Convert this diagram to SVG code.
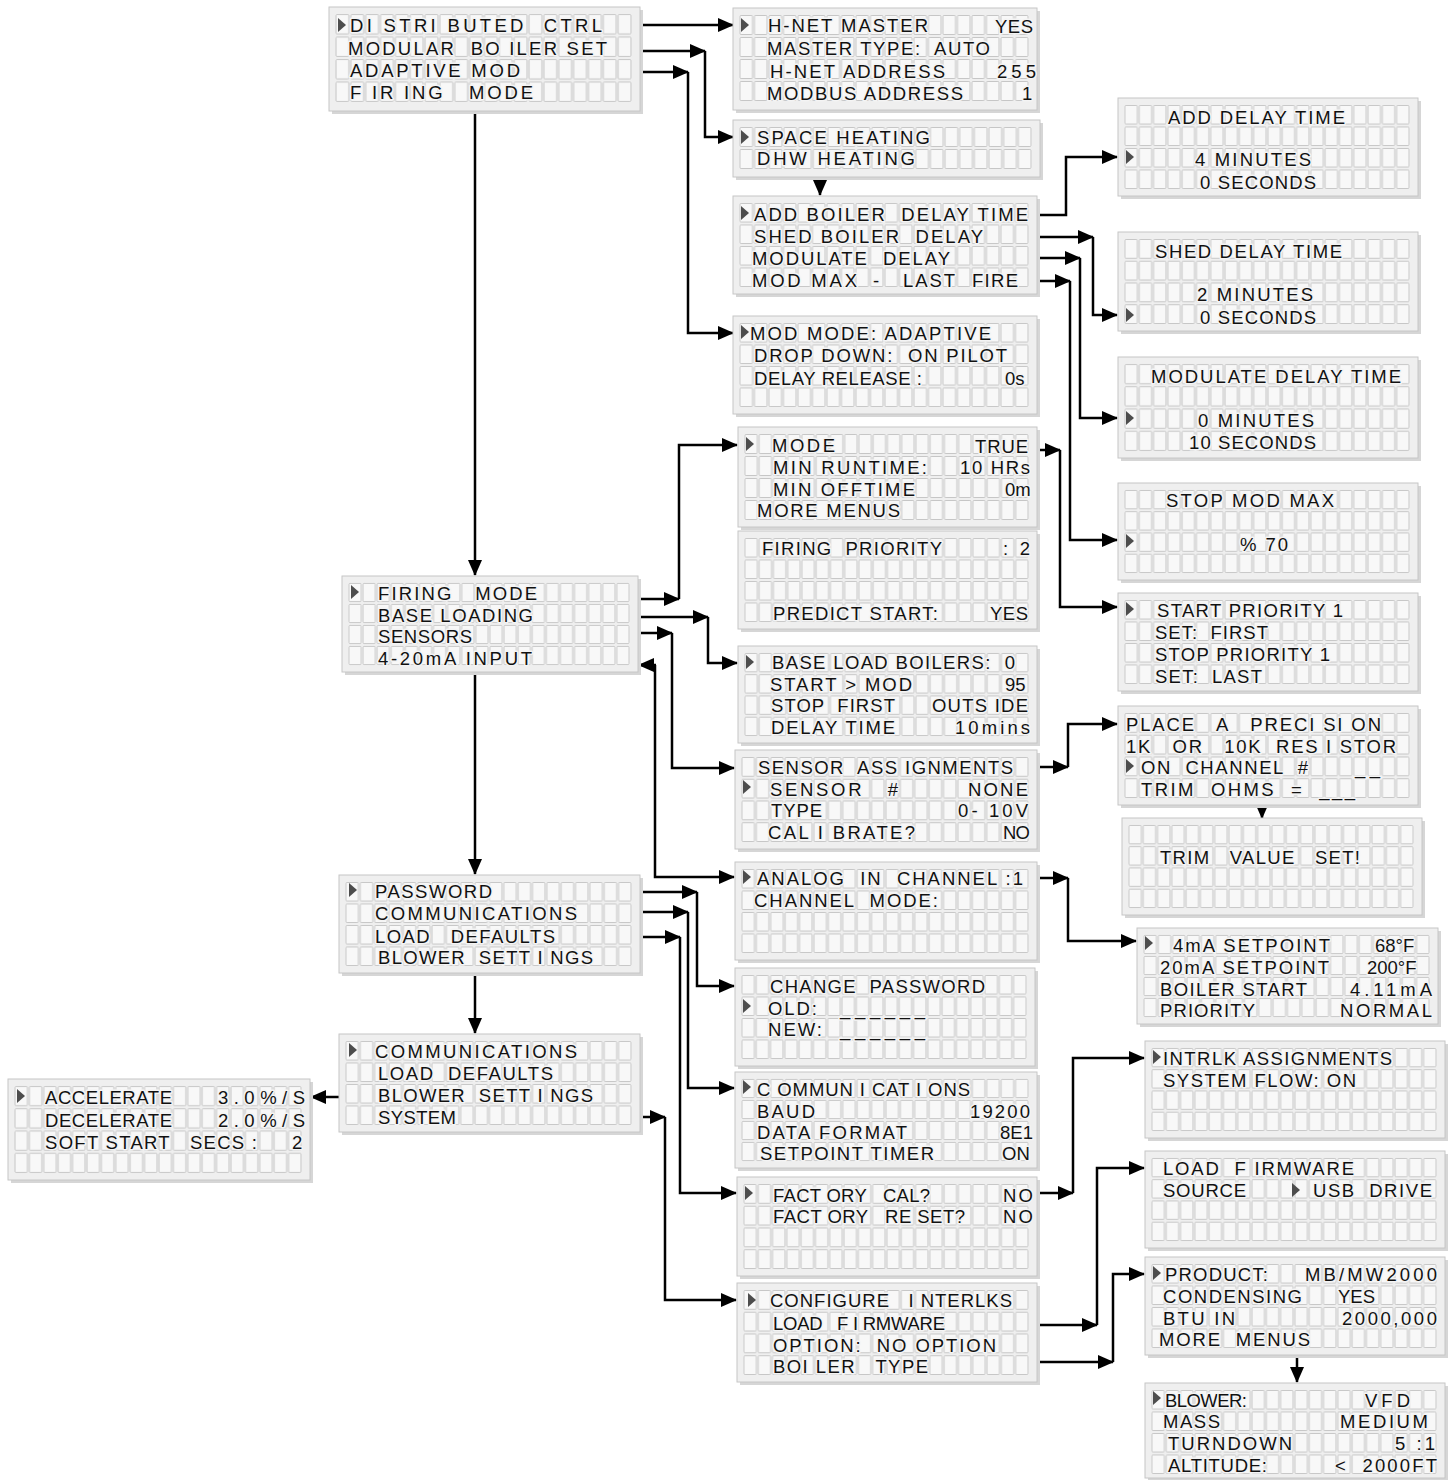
<svg xmlns="http://www.w3.org/2000/svg" xmlns:xlink="http://www.w3.org/1999/xlink" width="1452" height="1480" viewBox="0 0 1452 1480" xml:space="preserve">
<style>
.bg{fill:#ffffff}
.sh{fill:#d6d6d6}
.pn{fill:#efefef;stroke:#c6c6c6;stroke-width:1}
.sel{fill:#4d4d4d}
text{font-family:"Liberation Sans",Arial,sans-serif;font-size:18.5px;fill:#111111;stroke:#f4f4f4;stroke-width:3px;stroke-linejoin:round;paint-order:stroke;white-space:pre}
.ca{fill:none;stroke:#000;stroke-width:2.5;marker-end:url(#ah)}
</style>
<defs>
<marker id="ah" markerWidth="16" markerHeight="14" refX="15" refY="7" orient="auto" markerUnits="userSpaceOnUse"><path d="M0,0 L16,7 L0,14 z" fill="#000"/></marker>
<pattern id="cellpat" width="14.5" height="22" patternUnits="userSpaceOnUse"><rect x="1" y="1.5" width="12.5" height="19" rx="1" fill="#f8f8f8" stroke="#bdbdbd" stroke-width="0.8"/></pattern>
<symbol id="g4" viewBox="0 0 290 88" preserveAspectRatio="none"><rect width="290" height="88" fill="url(#cellpat)"/></symbol>
<symbol id="g2" viewBox="0 0 290 44" preserveAspectRatio="none"><rect width="290" height="44" fill="url(#cellpat)"/></symbol>
</defs>
<rect class="bg" width="1452" height="1480"/>

<g id="connectors">
<path class="ca" d="M640,25 H733"/>
<path class="ca" d="M640,51 H705"/><path class="ca" d="M705,51 V137 H733"/>
<path class="ca" d="M640,72 H688"/><path class="ca" d="M688,72 V333 H733"/>
<path class="ca" d="M475,111 V575"/>
<path class="ca" d="M820,178 V195"/>
<path class="ca" d="M1037,215 H1066 V157 H1117"/>
<path class="ca" d="M1037,237 H1093"/><path class="ca" d="M1093,237 V315 H1117"/>
<path class="ca" d="M1037,258 H1080"/><path class="ca" d="M1080,258 V418 H1117"/>
<path class="ca" d="M1037,281 H1070"/><path class="ca" d="M1070,281 V540 H1117"/>
<path class="ca" d="M1037,450 H1060"/><path class="ca" d="M1060,450 V607 H1117"/>
<path class="ca" d="M638,599 H679"/><path class="ca" d="M679,599 V445 H737"/>
<path class="ca" d="M638,617 H708"/><path class="ca" d="M708,617 V663 H737"/>
<path class="ca" d="M638,633 H672"/><path class="ca" d="M672,633 V768 H734"/>
<path class="ca" d="M656,665 H639"/><path class="ca" d="M655,665 V877 H734"/>
<path class="ca" d="M475,672 V874"/>
<path class="ca" d="M475,973 V1033"/>
<path class="ca" d="M1037,767 H1068"/><path class="ca" d="M1068,767 V724 H1117"/>
<path class="ca" d="M1262,805 V818"/>
<path class="ca" d="M1037,878 H1068"/><path class="ca" d="M1068,878 V941 H1136"/>
<path class="ca" d="M640,892 H697"/><path class="ca" d="M697,892 V986 H734"/>
<path class="ca" d="M640,912 H688"/><path class="ca" d="M688,912 V1088 H734"/>
<path class="ca" d="M640,937 H680"/><path class="ca" d="M680,937 V1193 H736"/>
<path class="ca" d="M640,1117 H665"/><path class="ca" d="M665,1117 V1300 H736"/>
<path class="ca" d="M339,1097 H311"/>
<path class="ca" d="M1037,1193 H1073"/><path class="ca" d="M1073,1193 V1058 H1144"/>
<path class="ca" d="M1037,1325 H1097"/><path class="ca" d="M1097,1325 V1168 H1144"/>
<path class="ca" d="M1037,1362 H1113"/><path class="ca" d="M1113,1362 V1274 H1144"/>
<path class="ca" d="M1297,1356 V1382"/>
</g>

<g id="p-main">
<rect class="sh" x="332" y="10" width="311" height="104"/><rect class="pn" x="329" y="7" width="311" height="104"/>
<use href="#g4" x="335" y="13" width="297" height="90"/>
<polygon class="sel" points="338,18 346,25 338,32"/>
<text x="350" y="32" textLength="252">DI STRI BUTED  CTRL</text>
<text x="348" y="55" textLength="259">MODULAR  BO ILER SET</text>
<text x="350" y="77" textLength="170">ADAPTIVE MOD</text>
<text x="350" y="99" textLength="183">F IR ING   MODE</text>
</g>

<g id="p-hnet">
<rect class="sh" x="736" y="11" width="304" height="102"/><rect class="pn" x="733" y="8" width="304" height="102"/>
<use href="#g4" x="739" y="14" width="290" height="88"/>
<polygon class="sel" points="741,18 749,25 741,32"/>
<text x="768" y="32" textLength="160">H-NET MASTER</text><text x="995" y="33" textLength="38">YES</text>
<text x="767" y="55" textLength="223">MASTER TYPE:  AUTO</text>
<text x="770" y="78" textLength="175">H-NET ADDRESS</text><text x="997" y="78" textLength="39">255</text>
<text x="767" y="100" textLength="196">MODBUS ADDRESS</text><text x="1022" y="100">1</text>
</g>

<g id="p-space">
<rect class="sh" x="736" y="123" width="307" height="57"/><rect class="pn" x="733" y="120" width="307" height="57"/>
<use href="#g2" x="739" y="126" width="293" height="44"/>
<polygon class="sel" points="741,130 749,137 741,144"/>
<text x="757" y="144" textLength="173">SPACE HEATING</text>
<text x="757" y="165" textLength="158">DHW HEATING</text>
</g>

<g id="p-addboiler">
<rect class="sh" x="736" y="199" width="304" height="98"/><rect class="pn" x="733" y="196" width="304" height="98"/>
<use href="#g4" x="739" y="202" width="290" height="86"/>
<polygon class="sel" points="741,206 749,213 741,220"/>
<text x="754" y="221" textLength="274">ADD BOILER  DELAY TIME</text>
<text x="754" y="243" textLength="229">SHED BOILER  DELAY</text>
<text x="752" y="265" textLength="198">MODULATE  DELAY</text>
<text x="752" y="287" textLength="105">MOD MAX</text><text x="873" y="287">-</text><text x="903" y="287" textLength="52">LAST</text><text x="972" y="287" textLength="46">FIRE</text>
</g>

<g id="p-modmode">
<rect class="sh" x="736" y="319" width="304" height="98"/><rect class="pn" x="733" y="316" width="304" height="98"/>
<use href="#g4" x="739" y="322" width="290" height="86"/>
<polygon class="sel" points="741,325 749,332 741,339"/>
<text x="750" y="340" textLength="241">MOD MODE: ADAPTIVE</text>
<text x="754" y="362" textLength="253">DROP DOWN:  ON PILOT</text>
<text x="754" y="385" textLength="168">DELAY RELEASE :</text><text x="1005" y="385">0s</text>
</g>

<g id="p-adddelay">
<rect class="sh" x="1121" y="101" width="300" height="98"/><rect class="pn" x="1118" y="98" width="300" height="98"/>
<use href="#g4" x="1124" y="104" width="286" height="86"/>
<polygon class="sel" points="1126,150 1134,157 1126,164"/>
<text x="1168" y="124" textLength="177">ADD DELAY TIME</text>
<text x="1195" y="166" textLength="116">4 MINUTES</text>
<text x="1200" y="189" textLength="116">0 SECONDS</text>
</g>

<g id="p-sheddelay">
<rect class="sh" x="1121" y="235" width="300" height="99"/><rect class="pn" x="1118" y="232" width="300" height="99"/>
<use href="#g4" x="1124" y="238" width="286" height="87"/>
<polygon class="sel" points="1126,308 1134,315 1126,322"/>
<text x="1155" y="258" textLength="187">SHED DELAY TIME</text>
<text x="1197" y="301" textLength="116">2 MINUTES</text>
<text x="1200" y="324" textLength="116">0 SECONDS</text>
</g>

<g id="p-moddelay">
<rect class="sh" x="1121" y="360" width="300" height="101"/><rect class="pn" x="1118" y="357" width="300" height="101"/>
<use href="#g4" x="1124" y="363" width="286" height="89"/>
<polygon class="sel" points="1126,411 1134,418 1126,425"/>
<text x="1151" y="383" textLength="250">MODULATE DELAY TIME</text>
<text x="1198" y="427" textLength="116">0 MINUTES</text>
<text x="1189" y="449" textLength="127">10 SECONDS</text>
</g>

<g id="p-stopmodmax">
<rect class="sh" x="1121" y="486" width="300" height="97"/><rect class="pn" x="1118" y="483" width="300" height="97"/>
<use href="#g4" x="1124" y="489" width="286" height="85"/>
<polygon class="sel" points="1126,534 1134,541 1126,548"/>
<text x="1166" y="507" textLength="168">STOP MOD MAX</text>
<text x="1240" y="551" textLength="48">% 70</text>
</g>

<g id="p-startprio">
<rect class="sh" x="1121" y="596" width="300" height="98"/><rect class="pn" x="1118" y="593" width="300" height="98"/>
<use href="#g4" x="1124" y="599" width="286" height="86"/>
<polygon class="sel" points="1126,602 1134,609 1126,616"/>
<text x="1157" y="617" textLength="186">START PRIORITY 1</text>
<text x="1155" y="639" textLength="113">SET:  FIRST</text>
<text x="1155" y="661" textLength="175">STOP PRIORITY 1</text>
<text x="1155" y="683" textLength="107">SET:  LAST</text>
</g>

<g id="p-place">
<rect class="sh" x="1121" y="709" width="300" height="99"/><rect class="pn" x="1118" y="706" width="300" height="99"/>
<use href="#g4" x="1124" y="712" width="286" height="87"/>
<polygon class="sel" points="1126,759 1134,766 1126,773"/>
<text x="1126" y="731" textLength="255">PLACE   A   PRECI SI ON</text>
<text x="1126" y="753" textLength="270">1K   OR   10K  RES I STOR</text>
<text x="1141" y="774" textLength="167">ON  CHANNEL  #</text><text x="1355" y="774" textLength="25">__</text>
<text x="1141" y="796" textLength="214">TRIM  OHMS  =  ___</text>
</g>

<g id="p-trim">
<rect class="sh" x="1125" y="821" width="300" height="97"/><rect class="pn" x="1122" y="818" width="300" height="97"/>
<use href="#g4" x="1128" y="824" width="286" height="85"/>
<text x="1160" y="864" textLength="200">TRIM   VALUE   SET!</text>
</g>

<g id="p-mode">
<rect class="sh" x="741" y="430" width="299" height="100"/><rect class="pn" x="738" y="427" width="299" height="100"/>
<use href="#g4" x="744" y="433" width="285" height="88"/>
<polygon class="sel" points="746,437 754,444 746,451"/>
<text x="772" y="452" textLength="63">MODE</text><text x="975" y="453" textLength="53">TRUE</text>
<text x="773" y="474" textLength="154">MIN RUNTIME:</text><text x="960" y="474" textLength="70">10 HRs</text>
<text x="773" y="496" textLength="142">MIN OFFTIME</text><text x="1005" y="496">0m</text>
<text x="757" y="517" textLength="143">MORE MENUS</text>
</g>

<g id="p-firingprio">
<rect class="sh" x="741" y="534" width="299" height="98"/><rect class="pn" x="738" y="531" width="299" height="98"/>
<use href="#g4" x="744" y="537" width="285" height="86"/>
<text x="762" y="555" textLength="180">FIRING  PRIORITY</text><text x="1003" y="555" textLength="27">:  2</text>
<text x="773" y="620" textLength="165">PREDICT START:</text><text x="990" y="620" textLength="38">YES</text>
</g>

<g id="p-baseload">
<rect class="sh" x="741" y="649" width="299" height="97"/><rect class="pn" x="738" y="646" width="299" height="97"/>
<use href="#g4" x="744" y="652" width="285" height="85"/>
<polygon class="sel" points="746,655 754,662 746,669"/>
<text x="772" y="669" textLength="243">BASE LOAD BOILERS:  0</text>
<text x="770" y="691" textLength="142">START &gt; MOD</text><text x="1005" y="691">95</text>
<text x="771" y="712" textLength="124">STOP  FIRST</text><text x="932" y="712" textLength="96">OUTS IDE</text>
<text x="771" y="734" textLength="124">DELAY TIME</text><text x="955" y="734" textLength="75">10mins</text>
</g>

<g id="p-sensor">
<rect class="sh" x="738" y="753" width="302" height="99"/><rect class="pn" x="735" y="750" width="302" height="99"/>
<use href="#g4" x="741" y="756" width="288" height="87"/>
<polygon class="sel" points="743,780 751,787 743,794"/>
<text x="758" y="774" textLength="255">SENSOR  ASS IGNMENTS</text>
<text x="770" y="796" textLength="128">SENSOR   #</text><text x="968" y="796" textLength="60">NONE</text>
<text x="771" y="817" textLength="51">TYPE</text><text x="958" y="817" textLength="70">0- 10V</text>
<text x="768" y="839" textLength="147">CAL I BRATE?</text><text x="1003" y="839" textLength="27">NO</text>
</g>

<g id="p-analog">
<rect class="sh" x="738" y="865" width="302" height="98"/><rect class="pn" x="735" y="862" width="302" height="98"/>
<use href="#g4" x="741" y="868" width="288" height="86"/>
<polygon class="sel" points="743,870 751,877 743,884"/>
<text x="757" y="885" textLength="266">ANALOG  IN  CHANNEL :1</text>
<text x="754" y="907" textLength="184">CHANNEL  MODE:</text>
</g>

<g id="p-4ma">
<rect class="sh" x="1140" y="931" width="301" height="96"/><rect class="pn" x="1137" y="928" width="301" height="96"/>
<use href="#g4" x="1143" y="934" width="287" height="84"/>
<polygon class="sel" points="1145,936 1153,943 1145,950"/>
<text x="1173" y="952" textLength="157">4mA SETPOINT</text><text x="1375" y="952">68°F</text>
<text x="1160" y="974" textLength="169">20mA SETPOINT</text><text x="1367" y="974">200°F</text>
<text x="1160" y="996" textLength="147">BOILER START</text><text x="1350" y="996" textLength="82">4.11mA</text>
<text x="1160" y="1017" textLength="95">PRIORITY</text><text x="1340" y="1017" textLength="92">NORMAL</text>
</g>

<g id="p-password">
<rect class="sh" x="738" y="971" width="300" height="98"/><rect class="pn" x="735" y="968" width="300" height="98"/>
<use href="#g4" x="741" y="974" width="286" height="86"/>
<polygon class="sel" points="743,999 751,1006 743,1013"/>
<text x="770" y="993" textLength="215">CHANGE  PASSWORD</text>
<text x="768" y="1015" textLength="49">OLD:</text><text x="840" y="1015" textLength="85">_ _ _ _ _ _</text>
<text x="768" y="1036" textLength="54">NEW:</text><text x="840" y="1036" textLength="85">_ _ _ _ _ _</text>
</g>

<g id="p-comm">
<rect class="sh" x="738" y="1075" width="302" height="96"/><rect class="pn" x="735" y="1072" width="302" height="96"/>
<use href="#g4" x="741" y="1078" width="288" height="84"/>
<polygon class="sel" points="743,1080 751,1087 743,1094"/>
<text x="757" y="1096" textLength="213">C OMMUN I CAT I ONS</text>
<text x="757" y="1118" textLength="58">BAUD</text><text x="970" y="1118" textLength="60">19200</text>
<text x="757" y="1139" textLength="150">DATA FORMAT</text><text x="1000" y="1139">8E1</text>
<text x="760" y="1160" textLength="174">SETPOINT TIMER</text><text x="1002" y="1160">ON</text>
</g>

<g id="p-factory">
<rect class="sh" x="740" y="1180" width="300" height="99"/><rect class="pn" x="737" y="1177" width="300" height="99"/>
<use href="#g4" x="743" y="1183" width="286" height="87"/>
<polygon class="sel" points="745,1186 753,1193 745,1200"/>
<text x="773" y="1202" textLength="157">FACT ORY   CAL?</text><text x="1003" y="1202" textLength="30">NO</text>
<text x="773" y="1223" textLength="192">FACT ORY   RE SET?</text><text x="1003" y="1223" textLength="30">NO</text>
</g>

<g id="p-configure">
<rect class="sh" x="740" y="1286" width="300" height="99"/><rect class="pn" x="737" y="1283" width="300" height="99"/>
<use href="#g4" x="743" y="1289" width="286" height="87"/>
<polygon class="sel" points="748,1293 756,1300 748,1307"/>
<text x="770" y="1307" textLength="242">CONFIGURE   I NTERLKS</text>
<text x="773" y="1330" textLength="172">LOAD   F I RMWARE</text>
<text x="773" y="1352" textLength="223">OPTION:  NO OPTION</text>
<text x="773" y="1373" textLength="155">BOI LER   TYPE</text>
</g>

<g id="p-intrlk">
<rect class="sh" x="1148" y="1044" width="300" height="97"/><rect class="pn" x="1145" y="1041" width="300" height="97"/>
<use href="#g4" x="1151" y="1047" width="286" height="85"/>
<polygon class="sel" points="1153,1050 1161,1057 1153,1064"/>
<text x="1163" y="1065" textLength="229">INTRLK ASSIGNMENTS</text>
<text x="1163" y="1087" textLength="193">SYSTEM FLOW: ON</text>
</g>

<g id="p-loadfw">
<rect class="sh" x="1148" y="1154" width="300" height="97"/><rect class="pn" x="1145" y="1151" width="300" height="97"/>
<use href="#g4" x="1151" y="1157" width="286" height="85"/>
<polygon class="sel" points="1292,1183 1300,1190 1292,1197"/>
<text x="1163" y="1175" textLength="191">LOAD  F IRMWARE</text>
<text x="1163" y="1197" textLength="83">SOURCE</text><text x="1313" y="1197" textLength="119">USB  DRIVE</text>
</g>

<g id="p-product">
<rect class="sh" x="1148" y="1260" width="300" height="98"/><rect class="pn" x="1145" y="1257" width="300" height="98"/>
<use href="#g4" x="1151" y="1263" width="286" height="86"/>
<polygon class="sel" points="1153,1266 1161,1273 1153,1280"/>
<text x="1165" y="1281" textLength="103">PRODUCT:</text><text x="1305" y="1281" textLength="132">MB/MW2000</text>
<text x="1163" y="1303" textLength="139">CONDENSING</text><text x="1338" y="1303" textLength="37">YES</text>
<text x="1163" y="1325" textLength="72">BTU IN</text><text x="1342" y="1325" textLength="95">2000,000</text>
<text x="1159" y="1346" textLength="151">MORE  MENUS</text>
</g>

<g id="p-blower">
<rect class="sh" x="1148" y="1386" width="300" height="95"/><rect class="pn" x="1145" y="1383" width="300" height="95"/>
<use href="#g4" x="1151" y="1389" width="286" height="86"/>
<polygon class="sel" points="1153,1391 1161,1398 1153,1405"/>
<text x="1165" y="1407" textLength="82">BLOWER:</text><text x="1365" y="1407" textLength="45">VFD</text>
<text x="1163" y="1428" textLength="57">MASS</text><text x="1340" y="1428" textLength="88">MEDIUM</text>
<text x="1168" y="1450" textLength="124">TURNDOWN</text><text x="1395" y="1450" textLength="40">5 :1</text>
<text x="1168" y="1472" textLength="99">ALTITUDE:</text><text x="1335" y="1472" textLength="102">&lt;  2000FT</text>
</g>

<g id="p-firingmode">
<rect class="sh" x="345" y="579" width="296" height="96"/><rect class="pn" x="342" y="576" width="296" height="96"/>
<use href="#g4" x="348" y="582" width="282" height="84"/>
<polygon class="sel" points="351,585 359,592 351,599"/>
<text x="378" y="600" textLength="159">FIRING   MODE</text>
<text x="378" y="622" textLength="155">BASE LOADING</text>
<text x="378" y="643" textLength="94">SENSORS</text>
<text x="378" y="665" textLength="154">4-20mA INPUT</text>
</g>

<g id="p-pwmenu">
<rect class="sh" x="342" y="878" width="301" height="98"/><rect class="pn" x="339" y="875" width="301" height="98"/>
<use href="#g4" x="345" y="881" width="287" height="86"/>
<polygon class="sel" points="349,883 357,890 349,897"/>
<text x="375" y="898" textLength="117">PASSWORD</text>
<text x="375" y="920" textLength="202">COMMUNICATIONS</text>
<text x="375" y="943" textLength="180">LOAD   DEFAULTS</text>
<text x="378" y="964" textLength="215">BLOWER  SETT I NGS</text>
</g>

<g id="p-commmenu">
<rect class="sh" x="342" y="1037" width="301" height="98"/><rect class="pn" x="339" y="1034" width="301" height="98"/>
<use href="#g4" x="345" y="1040" width="287" height="86"/>
<polygon class="sel" points="349,1043 357,1050 349,1057"/>
<text x="375" y="1058" textLength="202">COMMUNICATIONS</text>
<text x="378" y="1080" textLength="175">LOAD  DEFAULTS</text>
<text x="378" y="1102" textLength="215">BLOWER  SETT I NGS</text>
<text x="378" y="1124" textLength="78">SYSTEM</text>
</g>

<g id="p-accel">
<rect class="sh" x="11" y="1082" width="302" height="101"/><rect class="pn" x="8" y="1079" width="302" height="101"/>
<use href="#g4" x="14" y="1085" width="288" height="89"/>
<polygon class="sel" points="17,1089 25,1096 17,1103"/>
<text x="45" y="1104" textLength="127">ACCELERATE</text><text x="218" y="1104" textLength="87">3.0%/S</text>
<text x="45" y="1127" textLength="127">DECELERATE</text><text x="218" y="1127" textLength="87">2.0%/S</text>
<text x="45" y="1149" textLength="212">SOFT START   SECS :</text><text x="292" y="1149">2</text>
</g>
</svg>
